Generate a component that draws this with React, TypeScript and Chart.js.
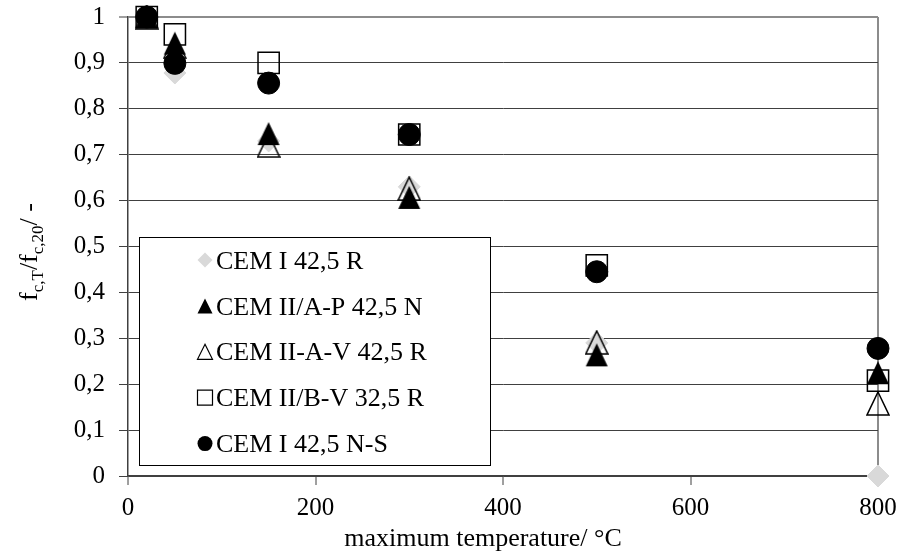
import React, { useEffect, useRef } from 'react';
import { Chart, registerables } from 'chart.js';

Chart.register(...registerables);

// ---- data ----
const temperatures = [20, 50, 150, 300, 500, 800];
const cemI425R = [1, 0.878, 0.73, 0.63, 0.29, 0];
const cemIIAP425N = [1, 0.943, 0.746, 0.607, 0.264, 0.225];
const cemIIAV425R = [1, 0.935, 0.72, 0.626, 0.291, 0.158];
const cemIIBV325R = [1, 0.962, 0.9, 0.744, 0.459, 0.208];
const cemI425NS = [1, 0.899, 0.856, 0.744, 0.445, 0.278];
const seriesLabels = [
  'CEM I 42,5 R',
  'CEM II/A-P 42,5 N',
  'CEM II-A-V 42,5 R',
  'CEM II/B-V 32,5 R',
  'CEM I 42,5 N-S',
];
const xTickLabels = ['0', '200', '400', '600', '800'];
const yTickLabels = ['0', '0,1', '0,2', '0,3', '0,4', '0,5', '0,6', '0,7', '0,8', '0,9', '1'];
const xTitle = 'maximum temperature/ °C';

const FONT = "'Liberation Serif', 'Times New Roman', serif";
const GRAY = '#d9d9d9';

type Kind = 'diamond' | 'triFilled' | 'triOpen' | 'square' | 'circle';
const kinds: Kind[] = ['diamond', 'triFilled', 'triOpen', 'square', 'circle'];

function makeTriangle(w: number, h: number, filled: boolean): HTMLCanvasElement {
  const c = document.createElement('canvas');
  c.width = w + 2;
  c.height = h + 2;
  const g = c.getContext('2d')!;
  g.beginPath();
  g.moveTo(1 + w / 2, 1);
  g.lineTo(1 + w, 1 + h);
  g.lineTo(1, 1 + h);
  g.closePath();
  if (filled) {
    g.fillStyle = '#000';
    g.fill();
  } else {
    g.strokeStyle = '#000';
    g.lineWidth = 1.5;
    g.stroke();
  }
  return c;
}

function drawMarker(ctx: CanvasRenderingContext2D, kind: Kind, x: number, y: number, s: number) {
  const h = s / 2;
  ctx.save();
  ctx.beginPath();
  if (kind === 'diamond') {
    ctx.moveTo(x - h, y);
    ctx.lineTo(x, y - h);
    ctx.lineTo(x + h, y);
    ctx.lineTo(x, y + h);
    ctx.closePath();
    ctx.fillStyle = GRAY;
    ctx.fill();
  } else if (kind === 'triFilled' || kind === 'triOpen') {
    ctx.moveTo(x, y - h);
    ctx.lineTo(x + h, y + h);
    ctx.lineTo(x - h, y + h);
    ctx.closePath();
    if (kind === 'triFilled') {
      ctx.fillStyle = '#000';
      ctx.fill();
    } else {
      ctx.strokeStyle = '#000';
      ctx.lineWidth = 1.2;
      ctx.stroke();
    }
  } else if (kind === 'square') {
    ctx.rect(x - h, y - h, s, s);
    ctx.strokeStyle = '#000';
    ctx.lineWidth = 1.2;
    ctx.stroke();
  } else {
    ctx.arc(x, y, h, 0, Math.PI * 2);
    ctx.fillStyle = '#000';
    ctx.fill();
  }
  ctx.restore();
}

const overlayPlugin = {
  id: 'overlay',
  afterDraw(chart: any) {
    const ctx: CanvasRenderingContext2D = chart.ctx;
    const area = chart.chartArea;
    // legend box
    const bx = 139.5, by = 237.5, bw = 351, bh = 228;
    ctx.save();
    ctx.fillStyle = '#fff';
    ctx.fillRect(bx, by, bw, bh);
    ctx.strokeStyle = '#000';
    ctx.lineWidth = 1;
    ctx.strokeRect(bx, by, bw, bh);
    ctx.font = `26px ${FONT}`;
    ctx.fillStyle = '#000';
    ctx.textAlign = 'left';
    ctx.textBaseline = 'alphabetic';
    seriesLabels.forEach((lab, i) => {
      const cy = 260 + i * 45.9;
      drawMarker(ctx, kinds[i], 205, cy, 15);
      ctx.fillText(lab, 216, cy + 8.6);
    });
    ctx.restore();

    // x title
    ctx.save();
    ctx.font = `26px ${FONT}`;
    ctx.fillStyle = '#000';
    ctx.textAlign = 'center';
    ctx.textBaseline = 'alphabetic';
    ctx.fillText(xTitle, (area.left + area.right) / 2 - 20, 546);
    ctx.restore();

    // y title with subscripts
    const parts: [string, boolean][] = [
      ['f', false],
      ['c,T', true],
      ['/f', false],
      ['c,20', true],
      ['/ -', false],
    ];
    ctx.save();
    const big = `26px ${FONT}`;
    const small = `17px ${FONT}`;
    let total = 0;
    const widths = parts.map(([t, sub]) => {
      ctx.font = sub ? small : big;
      const w = ctx.measureText(t).width;
      total += w;
      return w;
    });
    ctx.translate(37, 252);
    ctx.rotate(-Math.PI / 2);
    let px = -total / 2;
    ctx.fillStyle = '#000';
    ctx.textBaseline = 'alphabetic';
    ctx.textAlign = 'left';
    parts.forEach(([t, sub], i) => {
      ctx.font = sub ? small : big;
      ctx.fillText(t, px, sub ? 6 : 0);
      px += widths[i];
    });
    ctx.restore();
  },
};

export default function App() {
  const ref = useRef<HTMLCanvasElement | null>(null);

  useEffect(() => {
    document.body.style.margin = '0';
    const canvas = ref.current!;
    const triFilled = makeTriangle(22, 23, true);
    const triOpen = makeTriangle(22, 23, false);
    const pts = (arr: number[]) => temperatures.map((t, i) => ({ x: t, y: arr[i] }));

    const chart = new Chart(canvas, {
      type: 'scatter',
      data: {
        datasets: [
          {
            label: seriesLabels[0],
            data: pts(cemI425R),
            pointStyle: 'rectRot',
            pointRadius: 11,
            backgroundColor: GRAY,
            borderColor: GRAY,
            borderWidth: 1,
            order: 4,
            clip: false,
          },
          {
            label: seriesLabels[1],
            data: pts(cemIIAP425N),
            pointStyle: triFilled as any,
            pointRadius: 11,
            backgroundColor: '#000',
            borderColor: '#000',
            order: 3,
            clip: false,
          },
          {
            label: seriesLabels[2],
            data: pts(cemIIAV425R),
            pointStyle: triOpen as any,
            pointRadius: 11,
            backgroundColor: 'rgba(0,0,0,0)',
            borderColor: '#000',
            order: 2,
            clip: false,
          },
          {
            label: seriesLabels[3],
            data: pts(cemIIBV325R),
            pointStyle: 'rect',
            pointRadius: 15,
            backgroundColor: 'rgba(0,0,0,0)',
            borderColor: '#000',
            borderWidth: 1.5,
            order: 1,
            clip: false,
          },
          {
            label: seriesLabels[4],
            data: pts(cemI425NS),
            pointStyle: 'circle',
            pointRadius: 11,
            backgroundColor: '#000',
            borderColor: '#000',
            borderWidth: 1,
            order: 0,
            clip: false,
          },
        ] as any,
      },
      options: {
        animation: false,
        responsive: false,
        devicePixelRatio: 1,
        layout: { padding: { top: 17, right: 23, left: 0, bottom: 0 } },
        plugins: {
          legend: { display: false },
          tooltip: { enabled: false },
        },
        scales: {
          x: {
            type: 'linear',
            min: 0,
            max: 800,
            afterFit: (s: any) => {
              s.height = 78;
              s.paddingLeft = 0;
              s.paddingRight = 0;
            },
            afterBuildTicks: (s: any) => {
              s.ticks = xTickLabels.map((l) => ({ value: Number(l) }));
            },
            ticks: {
              callback: (_v: any, i: number) => xTickLabels[i],
              font: { family: FONT, size: 25 },
              color: '#000',
              padding: 8,
              maxRotation: 0,
            },
            grid: {
              drawOnChartArea: true,
              color: (c: any) => (c.tick && c.tick.value === 800 ? '#8c8c8c' : 'rgba(0,0,0,0)'),
              lineWidth: 2,
              drawTicks: true,
              tickLength: 9,
              tickColor: '#404040',
              tickWidth: 1,
            },
            border: { display: true, color: '#404040', width: 1.5 },
          },
          y: {
            type: 'linear',
            min: 0,
            max: 1,
            afterFit: (s: any) => {
              s.width = 128;
              s.paddingTop = 0;
              s.paddingBottom = 0;
            },
            afterBuildTicks: (s: any) => {
              s.ticks = yTickLabels.map((_l, i) => ({ value: i / 10 }));
            },
            ticks: {
              callback: (_v: any, i: number) => yTickLabels[i],
              font: { family: FONT, size: 25 },
              color: '#000',
              padding: 14,
            },
            grid: {
              color: (c: any) => (c.tick && c.tick.value === 1 ? '#8c8c8c' : '#404040'),
              lineWidth: (c: any) => (c.tick && c.tick.value === 1 ? 2 : 1),
              drawTicks: true,
              tickLength: 9,
              tickColor: '#404040',
              tickWidth: 1,
            },
            border: { display: true, color: '#404040', width: 1.5 },
          },
        },
      },
      plugins: [overlayPlugin],
    });
    return () => chart.destroy();
  }, []);

  return (
    <div style={{ width: 901, height: 554 }}>
      <canvas ref={ref} width={901} height={554} style={{ display: 'block' }} />
    </div>
  );
}
